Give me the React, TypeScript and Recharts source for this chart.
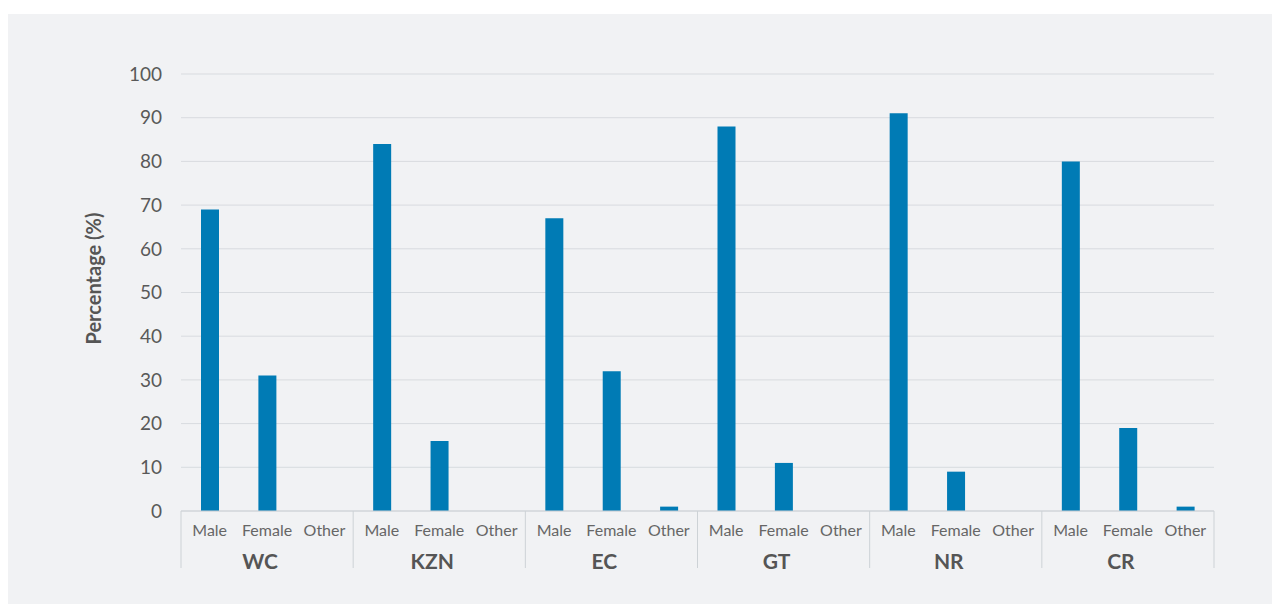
import { BarChart, Bar, XAxis, YAxis, CartesianGrid } from 'recharts';

const regions = ['WC', 'KZN', 'EC', 'GT', 'NR', 'CR'];
const genders = ['Male', 'Female', 'Other'];
const maleValues = [69, 84, 67, 88, 91, 80];
const femaleValues = [31, 16, 32, 11, 9, 19];
const otherValues = [0, 0, 1, 0, 0, 1];
const yTicks = [0, 10, 20, 30, 40, 50, 60, 70, 80, 90, 100];

const W = 1272;
const H = 590;
const margin = { top: 60, right: 66, left: 0, bottom: 0 };
const yAxisWidth = 173;
const step = (W - margin.right - yAxisWidth) / (regions.length * genders.length);

const data = regions.flatMap((region, i) =>
    genders.map((g, j) => ({
        region,
        gender: g,
        value: [maleValues, femaleValues, otherValues][j][i],
    }))
);

function GroupedTick(props: any) {
    const { x, y, payload } = props;
    const idx = payload.index;
    const sepColor = '#cdd2d6';
    return (
        <g>
            <text x={x} y={y + 25} textAnchor="middle" fontSize={16} fill="#666" fontFamily="Lato">
                {payload.value}
            </text>
            {idx % 3 === 1 && (
                <text x={x - 7} y={y + 58} textAnchor="middle" fontSize={21} fontWeight="bold" fill="#555" fontFamily="Lato">
                    {data[idx].region}
                </text>
            )}
            {idx % 3 === 0 && <line x1={x - step / 2} x2={x - step / 2} y1={y} y2={y + 57} stroke={sepColor} />}
            {idx === data.length - 1 && <line x1={x + step / 2} x2={x + step / 2} y1={y} y2={y + 57} stroke={sepColor} />}
        </g>
    );
}

function YLabel(props: any) {
    const { viewBox } = props;
    const cx = viewBox.x + 85;
    const cy = viewBox.y + viewBox.height / 2 - 14;
    return (
        <text x={cx} y={cy} transform={`rotate(-90, ${cx}, ${cy})`} textAnchor="middle" dominantBaseline="central"
            fontSize={20} fontWeight="bold" fill="#555" fontFamily="Lato">
            Percentage (%)
        </text>
    );
}

export default function App() {
    return (
        <div style={{ paddingTop: 6 }}>
            <div style={{ width: W, height: H, background: '#f1f2f4' }}>
                <BarChart width={W} height={H} data={data} margin={margin} barSize={18}>
                    <CartesianGrid vertical={false} stroke="#d8dbdf" />
                    <XAxis
                        dataKey="gender"
                        interval={0}
                        height={93}
                        tickLine={false}
                        tickSize={0}
                        tickMargin={0}
                        axisLine={{ stroke: '#cdd2d6' }}
                        tick={<GroupedTick />}
                    />
                    <YAxis
                        width={yAxisWidth}
                        domain={[0, 100]}
                        ticks={yTicks}
                        tickLine={false}
                        axisLine={false}
                        tickSize={0}
                        tickMargin={19}
                        tick={{ fontSize: 19, fill: '#595959', fontFamily: 'Lato' }}
                        label={<YLabel />}
                    />
                    <Bar dataKey="value" fill="#007bb5" isAnimationActive={false} />
                </BarChart>
            </div>
        </div>
    );
}
